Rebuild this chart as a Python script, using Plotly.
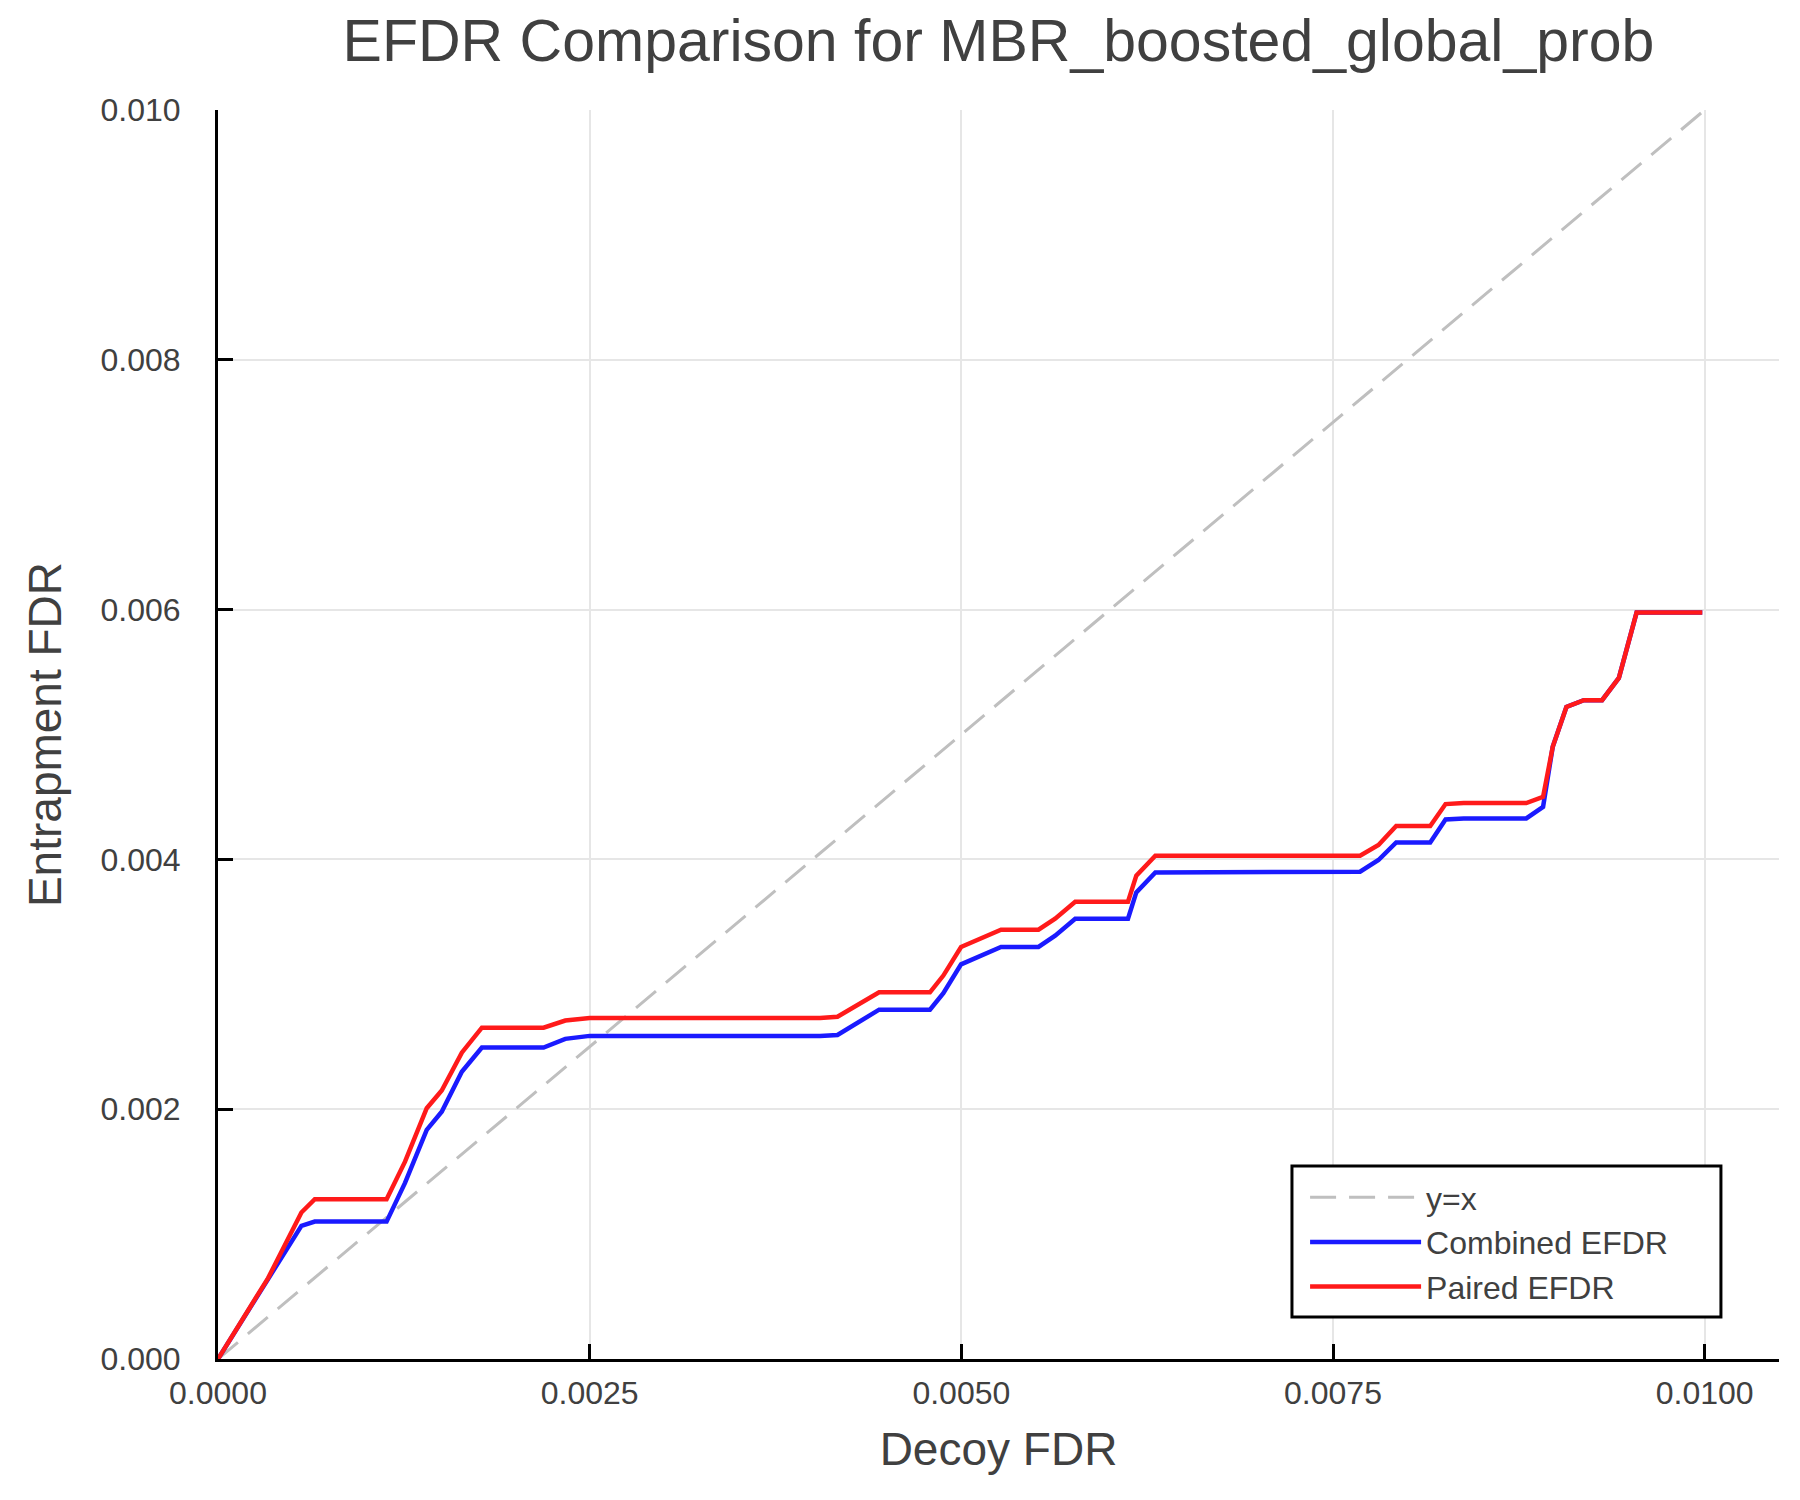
import plotly.graph_objects as go

# values
decoy_fdr = [0.0, 0.000337, 0.000561, 0.000651, 0.001134, 0.001258, 0.001404, 0.001505,
             0.00164, 0.001775, 0.00219, 0.002336, 0.0025, 0.00405, 0.004167, 0.004447,
             0.004789, 0.004879, 0.004998, 0.005267, 0.005519, 0.005631, 0.005766, 0.006121,
             0.006177, 0.006305, 0.007682, 0.007806, 0.007925, 0.008154, 0.008257, 0.008379,
             0.0088, 0.008913, 0.008978, 0.00907, 0.009187, 0.00931, 0.009423, 0.009542,
             0.009984]

combined_efdr = [0.0, 0.000648, 0.001066, 0.0011, 0.0011, 0.00141, 0.001834, 0.00198,
                 0.0023, 0.002494, 0.002494, 0.002563, 0.002587, 0.002587, 0.002594, 0.002797,
                 0.002797, 0.002928, 0.00316, 0.003299, 0.003299, 0.003389, 0.003525, 0.003525,
                 0.003736, 0.003896, 0.003901, 0.003995, 0.004136, 0.004136, 0.00432, 0.004328,
                 0.004328, 0.004421, 0.004901, 0.005221, 0.005275, 0.005275, 0.005453, 0.005976,
                 0.005976]

paired_efdr = [0.0, 0.000648, 0.001173, 0.00128, 0.00128, 0.00158, 0.002008, 0.00215,
               0.002453, 0.002653, 0.002653, 0.00271, 0.00273, 0.00273, 0.00274, 0.002936,
               0.002936, 0.00307, 0.003299, 0.003437, 0.003437, 0.003525, 0.003661, 0.003661,
               0.00387, 0.00403, 0.00403, 0.004115, 0.004267, 0.004267, 0.004443, 0.004451,
               0.004451, 0.004501, 0.004901, 0.005221, 0.005275, 0.005275, 0.005453, 0.005976,
               0.005976]

diag = [0.0, 0.01]

x_ticks = [0.0, 0.0025, 0.005, 0.0075, 0.01]
y_ticks = [0.0, 0.002, 0.004, 0.006, 0.008, 0.01]

font = "Liberation Sans, Arial, sans-serif"
text_col = "#404040"

fig = go.Figure()

fig.add_trace(go.Scatter(
    x=diag, y=diag, mode="lines", name="y=x",
    line=dict(color="#bfbfbf", width=3, dash="26px,13px")
))

fig.add_trace(go.Scatter(
    x=decoy_fdr, y=combined_efdr, mode="lines", name="Combined EFDR",
    line=dict(color="#1a1aff", width=4.5)
))

fig.add_trace(go.Scatter(
    x=decoy_fdr, y=paired_efdr, mode="lines", name="Paired EFDR",
    line=dict(color="#ff1a1a", width=4.5)
))

axis_common = dict(
    showgrid=True, gridcolor="#e6e6e6", gridwidth=1.5,
    showline=True, linecolor="black", linewidth=3,
    ticks="inside", tickcolor="black", tickwidth=3, ticklen=15,
    zeroline=False, mirror=False,
    tickfont=dict(family=font, size=32, color=text_col),
)

fig.update_xaxes(
    range=[0, 0.0105], tickvals=x_ticks, tickformat=".4f",
    ticklabelstandoff=4,
    title=dict(text="Decoy FDR", font=dict(family=font, size=46, color=text_col), standoff=23),
    **axis_common
)

fig.update_yaxes(
    range=[0, 0.01], tickvals=y_ticks, tickformat=".3f",
    ticklabelstandoff=28,
    title=dict(text="Entrapment FDR", font=dict(family=font, size=46, color=text_col), standoff=25),
    **axis_common
)

# framed box behind the legend
fig.add_shape(
    type="rect", xref="paper", yref="paper",
    x0=0.688, x1=0.9628, y0=0.0336, y1=0.1545,
    line=dict(color="black", width=3), fillcolor="white", layer="above"
)

fig.update_layout(
    width=1800, height=1500,
    margin=dict(l=210, r=29, t=102, b=149, autoexpand=False),
    paper_bgcolor="white", plot_bgcolor="white",
    title=dict(text="EFDR Comparison for MBR_boosted_global_prob",
               font=dict(family=font, size=59, color=text_col),
               x=0.5, xref="paper", xanchor="center",
               y=1 - 32 / 1500, yref="container", yanchor="middle"),
    legend=dict(
        x=0.6964, xanchor="left", y=0.1513, yanchor="top",
        bgcolor="rgba(0,0,0,0)", borderwidth=0,
        font=dict(family=font, size=32, color=text_col),
        itemwidth=111, tracegroupgap=0,
    ),
    showlegend=True,
)

fig.write_html("out.html")
